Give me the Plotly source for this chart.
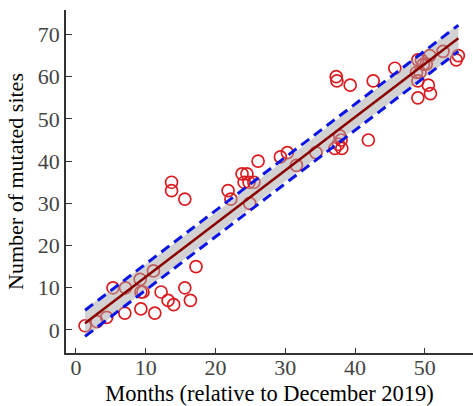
import numpy as np
import plotly.graph_objects as go

# Observed points (months relative to Dec 2019, number of mutated sites)
months = [1.3, 3.0, 4.4, 5.3, 7.0, 7.1, 9.2, 9.3, 9.6, 9.3, 11.1, 11.3, 12.2, 13.2, 14.0,
          15.6, 16.4, 17.2, 13.7, 13.7, 15.6, 21.8, 22.2, 23.8, 24.5, 24.1, 24.8, 25.5,
          24.9, 26.1, 29.3, 30.3, 31.6, 34.4, 37.1, 37.6, 38.1, 37.8, 38.0, 37.3, 37.4,
          39.3, 42.6, 41.9, 45.7, 49.0, 49.5, 50.2, 48.8, 49.3, 49.8, 50.7, 52.6, 54.8,
          54.5, 49.0, 50.5, 50.8, 49.0]
sites = [1, 2, 3, 10, 4, 10, 12, 9, 9, 5, 14, 4, 9, 7, 6,
         10, 7, 15, 35, 33, 31, 33, 31, 37, 37, 35, 35, 35,
         30, 40, 41, 42, 39, 42, 43, 44, 43, 46, 45, 60, 59,
         58, 59, 45, 62, 64, 64, 63, 61, 61, 63, 65, 66, 65,
         64, 59, 58, 56, 55]

# Fitted trend line (end points)
trend_months = [1.3, 54.8]
trend_values = [1.58, 69.1]
# Half widths of the gray band (at the ends / centre) and the dashed bounds
band_hw_end = 3.4
band_hw_mid = 2.5
dash_offset = 3.1

x_ticks = [0, 10, 20, 30, 40, 50]
y_ticks = [0, 10, 20, 30, 40, 50, 60, 70]

slope = (trend_values[1] - trend_values[0]) / (trend_months[1] - trend_months[0])
xs = np.linspace(trend_months[0], trend_months[1], 120)
fit = trend_values[0] + slope * (xs - trend_months[0])
xm = 0.5 * (trend_months[0] + trend_months[1])
dx_end = trend_months[1] - xm
b = (band_hw_end ** 2 - band_hw_mid ** 2) / dx_end ** 2
hw = np.sqrt(band_hw_mid ** 2 + b * (xs - xm) ** 2)

font = "Liberation Serif, Times New Roman, serif"

fig = go.Figure()
fig.add_trace(go.Scatter(
    x=months, y=sites, mode="markers",
    marker=dict(symbol="circle-open", size=12, color="rgb(218,28,32)",
                line=dict(width=1.7, color="rgb(218,28,32)")),
    showlegend=False, hoverinfo="skip"))
fig.add_trace(go.Scatter(
    x=np.concatenate([xs, xs[::-1]]), y=np.concatenate([fit + hw, (fit - hw)[::-1]]),
    fill="toself", fillcolor="rgba(165,165,165,0.5)", line=dict(width=0),
    mode="lines", showlegend=False, hoverinfo="skip"))
for s in (1, -1):
    fig.add_trace(go.Scatter(
        x=xs, y=fit + s * dash_offset, mode="lines",
        line=dict(color="rgb(10,20,230)", width=3, dash="10px,6px"),
        showlegend=False, hoverinfo="skip"))
fig.add_trace(go.Scatter(
    x=xs, y=fit, mode="lines", line=dict(color="rgb(139,0,0)", width=2.5),
    showlegend=False, hoverinfo="skip"))

axis_common = dict(showgrid=False, zeroline=False, showline=True, automargin=False,
                   linecolor="#333333", linewidth=1.5, ticks="inside",
                   tickcolor="#333333", tickwidth=1.3,
                   tickfont=dict(family=font, size=22, color="#444444"))

fig.update_layout(
    width=473, height=406,
    margin=dict(l=66, r=0, t=10, b=53),
    paper_bgcolor="white", plot_bgcolor="white",
    font=dict(family=font, size=22, color="black"),
    xaxis=dict(range=[-1.43, 56.9], tickvals=x_ticks, ticklen=5, ticklabelstandoff=-6,
               title=dict(text="Months (relative to December 2019)",
                          font=dict(family=font, size=22.5, color="black"), standoff=10),
               **axis_common),
    yaxis=dict(range=[-5.45, 75.8], tickvals=y_ticks, ticklen=6,
               title=dict(text="Number of mutated sites",
                          font=dict(family=font, size=22, color="black"), standoff=8),
               **axis_common),
)

fig.write_html("out.html", config={"displayModeBar": False},
               post_script="document.body.style.margin='0px';document.body.style.padding='0px';")
